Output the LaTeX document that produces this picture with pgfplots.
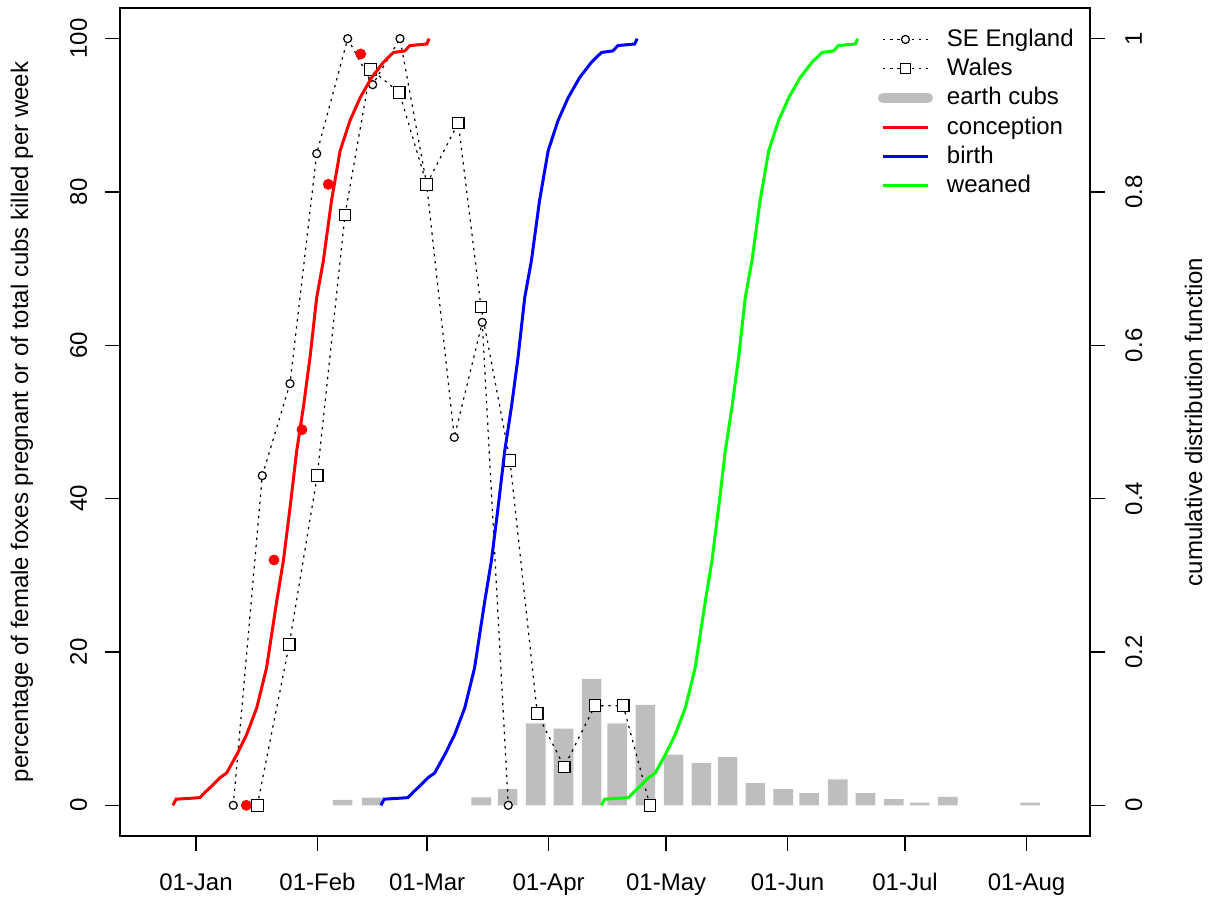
\documentclass[border=0pt]{standalone}
\usepackage{fontspec}
\setmainfont{Liberation Sans}
\usepackage{pgfplots}
\usepackage{pgfplotstable}
\pgfplotsset{compat=1.18}
\definecolor{cubgray}{RGB}{190,190,190}
\definecolor{pgreen}{RGB}{0,255,0}

\pgfplotstableread{
x y
9.52 0
16.92 43
23.99 55
30.81 85
38.72 100
45.10 94
52.07 100
58.88 81
65.93 48
73.07 63
79.71 0
}\seeng

\pgfplotstableread{
x y
15.65 0
23.81 21
30.96 43
38.03 77
44.59 96
51.89 93
58.88 81
66.95 89
72.74 65
80.14 45
87.11 12
94.00 5
101.84 13
109.06 13
115.88 0
}\wales

\pgfplotstableread{
x y
12.84 0
19.91 32
27.05 49
33.77 81
42.04 98
}\conpts

\pgfplotstableread{
x y
37.44 0.7
44.84 1.0
72.82 1.05
79.56 2.1
86.73 10.7
93.80 10.0
101.0 16.5
107.5 10.7
114.7 13.1
121.9 6.6
129.0 5.5
135.7 6.3
142.8 2.9
149.9 2.1
156.5 1.6
163.8 3.4
170.9 1.6
178.1 0.8
184.7 0.35
191.9 1.1
212.9 0.35
}\cubs

\pgfplotstableread{
x y
-5.9 0.0
-5.1 0.008
1.0 0.010
2.5 0.018
4.0 0.025
6.1 0.036
7.8 0.042
10.4 0.066
12.9 0.092
15.5 0.127
18.0 0.179
20.6 0.266
22.3 0.319
24.0 0.388
25.7 0.462
27.4 0.519
29.1 0.584
30.8 0.662
32.5 0.710
34.6 0.789
36.8 0.854
39.3 0.893
41.9 0.923
44.8 0.949
47.8 0.969
50.4 0.982
53.3 0.984
54.6 0.991
58.9 0.993
59.5 1.0
}\concep

\pgfplotstableread{
x y
47.2 0.0
48.0 0.008
54.1 0.010
55.6 0.018
57.1 0.025
59.2 0.036
60.9 0.042
63.5 0.066
66.0 0.092
68.6 0.127
71.1 0.179
73.7 0.266
75.4 0.319
77.1 0.388
78.8 0.462
80.5 0.519
82.2 0.584
83.9 0.662
85.6 0.710
87.7 0.789
89.9 0.854
92.4 0.893
95.0 0.923
97.9 0.949
100.9 0.969
103.5 0.982
106.4 0.984
107.7 0.991
112.0 0.993
112.6 1.0
}\birth

\pgfplotstableread{
x y
103.5 0.0
104.3 0.008
110.4 0.010
111.9 0.018
113.4 0.025
115.5 0.036
117.2 0.042
119.8 0.066
122.3 0.092
124.9 0.127
127.4 0.179
130.0 0.266
131.7 0.319
133.4 0.388
135.1 0.462
136.8 0.519
138.5 0.584
140.2 0.662
141.9 0.710
144.0 0.789
146.2 0.854
148.7 0.893
151.3 0.923
154.2 0.949
157.2 0.969
159.8 0.982
162.7 0.984
164.0 0.991
168.3 0.993
168.9 1.0
}\weaned

\begin{document}
\begin{tikzpicture}
\useasboundingbox (-60pt,-30.5pt) rectangle (546pt,418pt);
\pgfplotsset{
  every axis/.append style={
    scale only axis, width=485pt, height=414pt,
    xmin=-19.4, xmax=228.2,
    tick align=outside, major tick length=7.5pt,
    tick style={black, line width=0.8pt},
    axis line style={line width=0.9pt},
    font=\fontsize{12}{14}\selectfont,
    /pgf/number format/assume math mode=true,
  },
  dotline/.style={black, line width=0.6pt, dash pattern=on 1.2pt off 2.4pt},
}
\begin{axis}[
  name=main,
  ymin=-4, ymax=104,
  xtick={0,31,59,90,120,151,181,212},
  xticklabels={01-Jan,01-Feb,01-Mar,01-Apr,01-May,01-Jun,01-Jul,01-Aug},
  ytick={0,20,40,60,80,100},
  xtick pos=left, ytick pos=left,
  xticklabel style={anchor=north, inner sep=0pt},
  xticklabel shift=11pt,
  yticklabel style={rotate=90, anchor=base, inner sep=0pt},
  yticklabel shift=9pt,
  every axis y label/.style={at={(axis description cs:-0.0948,0.5)}, rotate=90, anchor=base},
  ylabel={percentage of female foxes pregnant or of total cubs killed per week},
]
\addplot[ybar, bar width=5, fill=cubgray, draw=none] table[x=x,y=y] {\cubs};
\addplot[dotline, mark=*, mark size=2pt, mark options={solid, fill=white, draw=black, line width=0.6pt}] table[x=x,y=y] {\seeng};
\addplot[dotline, mark=square*, mark size=2.9pt, mark options={solid, fill=white, draw=black, line width=0.6pt}] table[x=x,y=y] {\wales};
\addplot[only marks, mark=*, mark size=2.5pt, color=red] table[x=x,y=y] {\conpts};
\end{axis}
\begin{axis}[
  ymin=-0.04, ymax=1.04,
  hide x axis,
  axis y line*=right,
  ytick={0,0.2,0.4,0.6,0.8,1},
  yticklabels={0,0.2,0.4,0.6,0.8,1},
  yticklabel style={rotate=90, anchor=north, inner sep=0pt},
  yticklabel shift=10pt,
  every axis y label/.style={at={(axis description cs:1.1155,0.5)}, rotate=90, anchor=base},
  ylabel={cumulative distribution function},
  legend image code/.code={\draw[mark repeat=2,mark phase=2,#1] plot coordinates {(0pt,0pt) (11.25pt,0pt) (22.5pt,0pt)};},
  legend style={at={(axis description cs:0.7814,0.9789)}, anchor=north west, draw=none, fill=none,
    inner sep=0pt, outer sep=0pt, font=\fontsize{12}{14}\selectfont, row sep=0.6pt, column sep=6pt,
    nodes={inner sep=1pt, text height=9.5pt, text depth=2.5pt}, cells={anchor=west}},
]
\addlegendimage{dotline, mark=*, mark size=2pt, mark options={solid, fill=white, draw=black, line width=0.6pt}}
\addlegendentry{SE England}
\addlegendimage{dotline, mark=square*, mark size=2.6pt, mark options={solid, fill=white, draw=black, line width=0.6pt}}
\addlegendentry{Wales}
\addlegendimage{line width=5pt, line cap=round, color=cubgray}
\addlegendentry{earth cubs}
\addplot[red, line width=1.5pt] table[x=x,y=y] {\concep};
\addlegendentry{conception}
\addplot[blue, line width=1.5pt] table[x=x,y=y] {\birth};
\addlegendentry{birth}
\addplot[pgreen, line width=1.5pt] table[x=x,y=y] {\weaned};
\addlegendentry{weaned}
\end{axis}
\end{tikzpicture}
\end{document}
